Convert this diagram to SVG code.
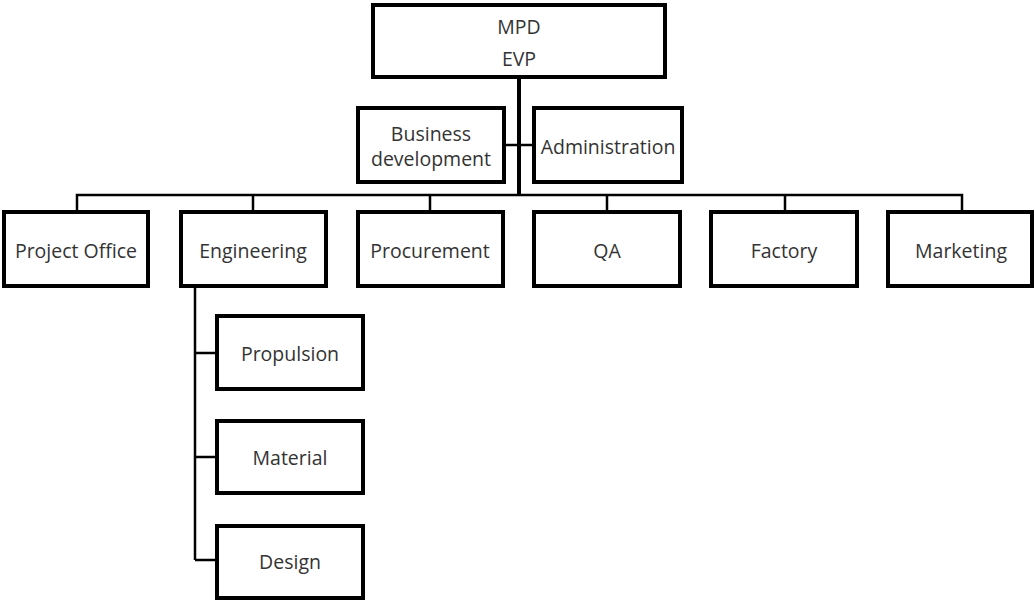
<svg xmlns="http://www.w3.org/2000/svg" width="1035" height="601" viewBox="0 0 1035 601">
<style>
.box{fill:#fff;stroke:#000;stroke-width:4}
.t{font-family:"Open Sans","Liberation Sans",sans-serif;font-size:19.5px;fill:#333;text-anchor:middle;dominant-baseline:central}
.c{fill:none;stroke:#000;stroke-width:2.5}
.ct{fill:none;stroke:#000;stroke-width:4}
</style>
<rect width="1035" height="601" fill="#fff"/>
<g id="connectors">
<path class="ct" d="M519 77V195"/>
<path class="c" d="M505 145H533"/>
<path class="c" d="M77 210V195H962V210M253 195V210M430 195V210M607 195V210M785 195V210"/>
<path class="c" d="M195 287V560M195 353H216M195 457H216M195 560H216"/>
</g>
<g id="mpd"><rect class="box" x="373" y="5" width="292" height="72"/><text class="t" x="519" y="26">MPD</text><text class="t" x="519" y="58">EVP</text></g>
<g id="bizdev"><rect class="box" x="358" y="108" width="146" height="74"/><text class="t" x="431" y="133">Business</text><text class="t" x="431" y="158">development</text></g>
<g id="admin"><rect class="box" x="534" y="108" width="148" height="74"/><text class="t" x="608" y="146">Administration</text></g>
<g id="projoffice"><rect class="box" x="4" y="212" width="144" height="74"/><text class="t" x="76" y="250">Project Office</text></g>
<g id="engineering"><rect class="box" x="181" y="212" width="145" height="74"/><text class="t" x="253" y="250">Engineering</text></g>
<g id="procurement"><rect class="box" x="358" y="212" width="145" height="74"/><text class="t" x="430" y="250">Procurement</text></g>
<g id="qa"><rect class="box" x="534" y="212" width="146" height="74"/><text class="t" x="607" y="250">QA</text></g>
<g id="factory"><rect class="box" x="711" y="212" width="146" height="74"/><text class="t" x="784" y="250">Factory</text></g>
<g id="marketing"><rect class="box" x="888" y="212" width="144" height="74"/><text class="t" x="961" y="250">Marketing</text></g>
<g id="propulsion"><rect class="box" x="217" y="316" width="146" height="73"/><text class="t" x="290" y="353">Propulsion</text></g>
<g id="material"><rect class="box" x="217" y="421" width="146" height="72"/><text class="t" x="290" y="457">Material</text></g>
<g id="design"><rect class="box" x="217" y="526" width="146" height="72"/><text class="t" x="290" y="561">Design</text></g>
</svg>
